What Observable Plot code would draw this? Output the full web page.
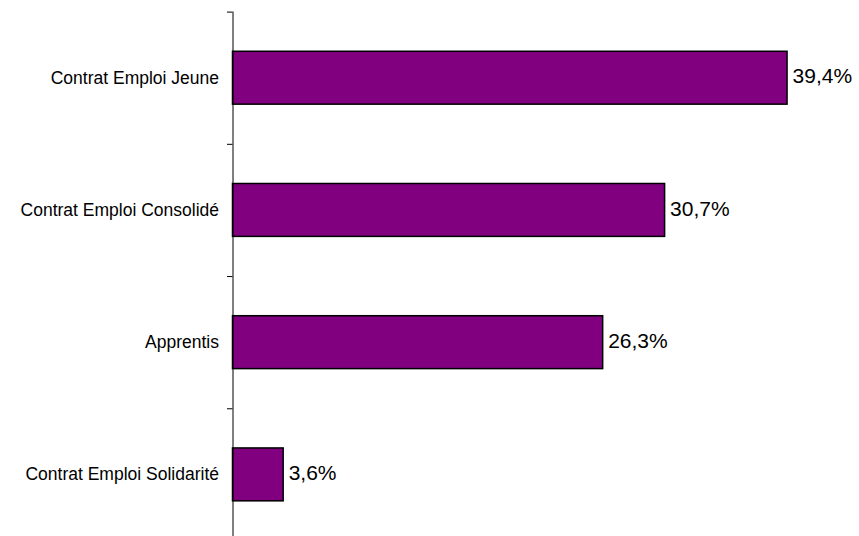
<!DOCTYPE html>
<html>
<head>
<meta charset="utf-8">
<script src="https://cdn.jsdelivr.net/npm/d3@7"></script>
<script src="https://cdn.jsdelivr.net/npm/@observablehq/plot@0.6"></script>
<style>
  html, body { margin: 0; padding: 0; background: #fff; overflow: hidden; }
  svg { display: block; }
</style>
</head>
<body>
<div id="chart"></div>
<script>
const categories = ["Contrat Emploi Jeune", "Contrat Emploi Consolidé", "Apprentis", "Contrat Emploi Solidarité"];
const values = [39.4, 30.7, 26.3, 3.6];

const data = categories.map((c, i) => ({category: c, i, value: values[i]}));
const boundaries = d3.range(categories.length + 1).map(k => k - 0.5);
const half = 0.2; // bar half-thickness in band units (gap width 150%)

const chart = Plot.plot({
  width: 859,
  height: 541,
  marginTop: 11.6,
  marginBottom: 0.5,
  marginLeft: 232.5,
  marginRight: 63.5,
  style: {fontFamily: "'Liberation Sans', Arial, sans-serif", background: "#fff", color: "#000"},
  x: {domain: [0, 40], axis: null},
  y: {domain: [-0.5, categories.length - 0.5], reverse: true, axis: null},
  marks: [
    Plot.rectX(data, {
      x1: 0, x2: "value",
      y1: d => d.i - half, y2: d => d.i + half,
      fill: "#800080", stroke: "#000", strokeWidth: 1.5
    }),
    Plot.ruleX([0], {stroke: "#000", strokeWidth: 1}),
    Plot.axisY({ticks: boundaries, tickSize: 5.5, tickFormat: () => "", label: null, stroke: "#000", strokeOpacity: 1}),
    Plot.axisY({ticks: d3.range(categories.length), tickSize: 0, tickPadding: 14, label: null,
      tickFormat: i => categories[i], fontSize: 17.5, fill: "#000"}),
    Plot.text(data, {
      x: "value", y: "i",
      text: d => d.value.toFixed(1).replace(".", ",") + "%",
      textAnchor: "start", dx: 5, dy: -1.5, fontSize: 21, fill: "#000"
    })
  ]
});
document.getElementById("chart").appendChild(chart);
</script>
</body>
</html>
